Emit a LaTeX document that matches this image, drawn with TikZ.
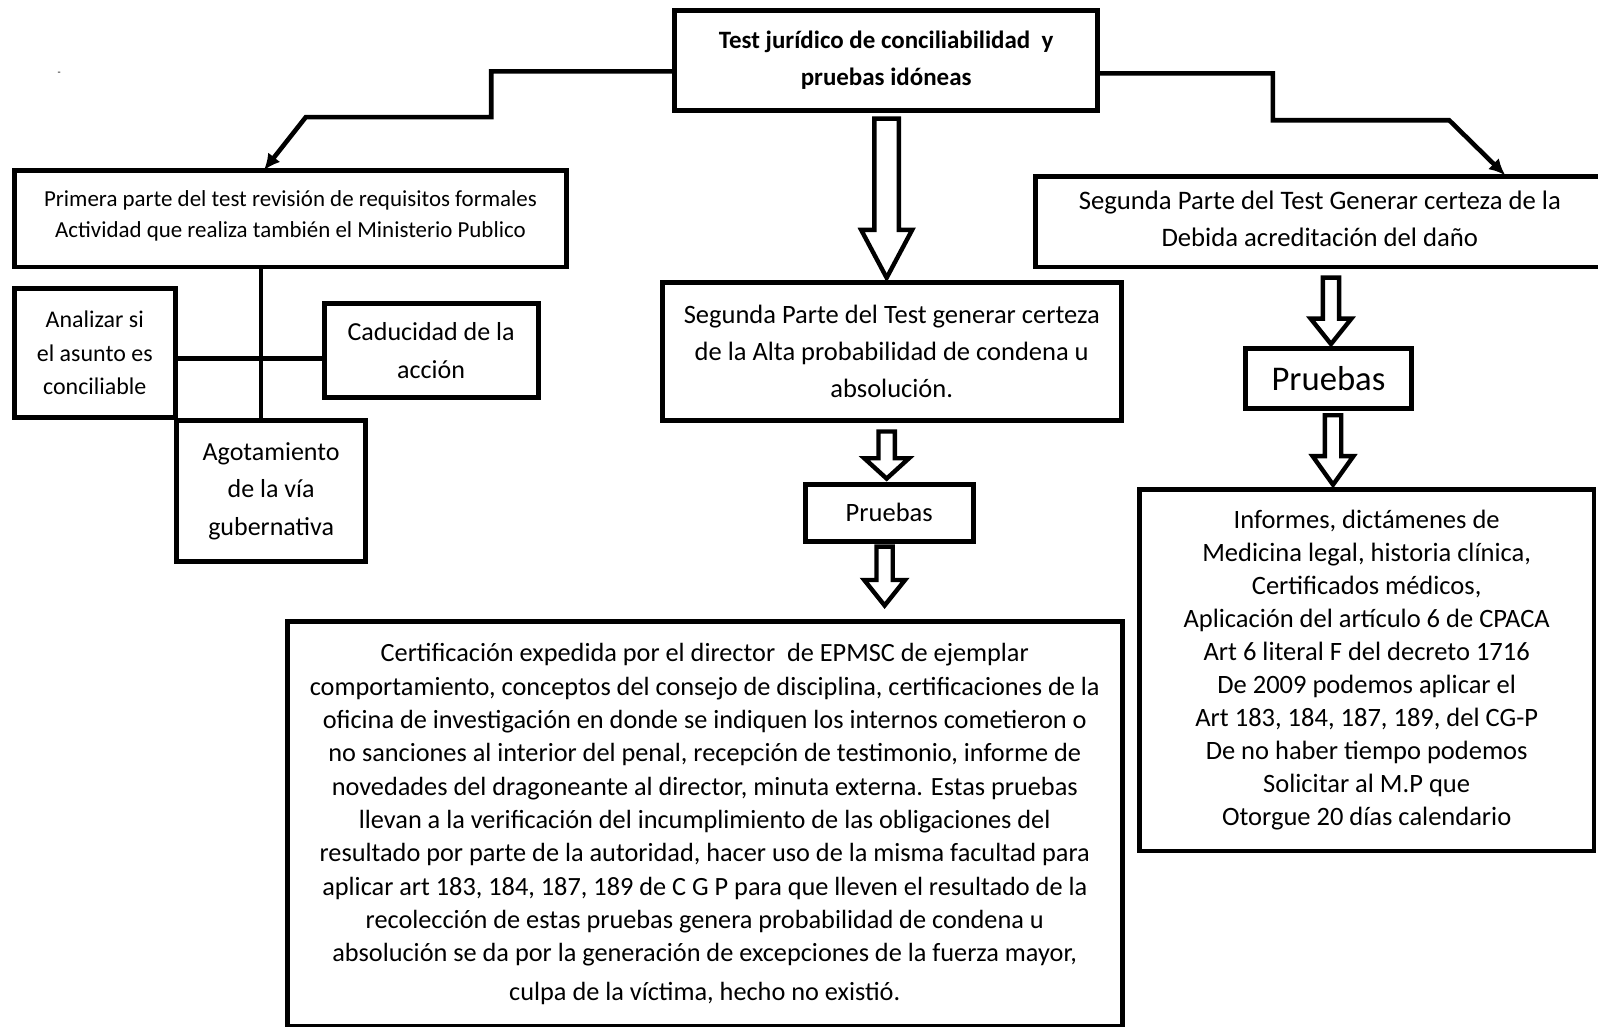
\documentclass[tikz,border=0pt]{standalone}
\usepackage{fontspec}
\setmainfont{Carlito}
\usetikzlibrary{arrows.meta,calc}
\newcommand{\hollowarr}[8]{%
\draw[harrowst] let \p1=(#1), \p2=(#2) in
 (\x1+#3-#6,\y1-#4) -- (\x1+#3+#6,\y1-#4) -- (\x1+#3+#6,\y2+#5+#8) -- (\x1+#3+#7,\y2+#5+#8)
 -- (\x1+#3,\y2+#5) -- (\x1+#3-#7,\y2+#5+#8) -- (\x1+#3-#6,\y2+#5+#8) -- cycle;}
\begin{document}
\begin{tikzpicture}[x=1pt,y=-1pt,
  box/.style={draw, line width=4.8pt, align=center, inner sep=0pt, fill=white},
  conn/.style={line width=4.5pt, line join=miter},
  tipped/.style={-{Latex[length=16pt,width=15pt]}},
  harrowst/.style={draw, line width=4.3pt, fill=white, line join=miter}]
\useasboundingbox (0,0) rectangle (1568,1007);
\begin{scope}
\clip (0,0) rectangle (1568,1007);
\node[box, minimum width=415pt, minimum height=98pt, font=\fontsize{24.5}{36}\selectfont\bfseries] (top) at (869.5,59)
  {Test jurídico de conciliabilidad\ \ y\\pruebas idóneas};
\node[font=\fontsize{10}{10}\selectfont] (dash) at (58,72) {-};
\node[box, minimum width=542pt, minimum height=95pt, font=\fontsize{22.5}{30}\selectfont, text depth=9pt] (prim) at (285,214.5)
  {Primera parte del test revisión de requisitos formales\\Actividad que realiza también el Ministerio Publico};
\node[box, minimum width=158pt, minimum height=127pt, font=\fontsize{23.5}{33}\selectfont] (anal) at (93,346.5)
  {Analizar si\\el asunto es\\conciliable};
\node[box, minimum width=210pt, minimum height=92pt, font=\fontsize{25.5}{37}\selectfont] (cad) at (423,344)
  {Caducidad de la\\acción};
\node[box, minimum width=186pt, minimum height=138pt, font=\fontsize{25.5}{37}\selectfont] (agot) at (266,482)
  {Agotamiento\\de la vía\\gubernativa};
\node[box, minimum width=450pt, minimum height=136pt, font=\fontsize{26}{36.5}\selectfont] (mid) at (875,345)
  {Segunda Parte del Test generar certeza\\de la Alta probabilidad de condena u\\absolución.};
\node[box, minimum width=165pt, minimum height=56pt, font=\fontsize{26}{28}\selectfont] (prM) at (872.5,503) {Pruebas};
\node[box, minimum width=819pt, minimum height=398pt, font=\fontsize{25.8}{32.7}\selectfont] (cert) at (691.5,808.5)
  {Certificación expedida por el director\ \ de EPMSC de ejemplar\\
   comportamiento, conceptos del consejo de disciplina, certificaciones de la\\
   oficina de investigación en donde se indiquen los internos cometieron o\\
   no sanciones al interior del penal, recepción de testimonio, informe de\\
   novedades del dragoneante al director, minuta externa. Estas pruebas\\
   llevan a la verificación del incumplimiento de las obligaciones del\\
   resultado por parte de la autoridad, hacer uso de la misma facultad para\\
   aplicar art 183, 184, 187, 189 de C G P para que lleven el resultado de la\\
   recolección de estas pruebas genera probabilidad de condena u\\
   absolución se da por la generación de excepciones de la fuerza mayor,\\[5pt]
   culpa de la víctima, hecho no existió.};
\node[box, minimum width=558pt, minimum height=89pt, font=\fontsize{26.2}{36}\selectfont, text depth=6pt] (rsg) at (1295,217.5)
  {Segunda Parte del Test Generar certeza de la\\Debida acreditación del daño};
\node[box, minimum width=163pt, minimum height=59pt, font=\fontsize{34}{36}\selectfont] (prR) at (1303.5,371.5) {Pruebas};
\node[box, minimum width=446pt, minimum height=355pt, font=\fontsize{26}{32.3}\selectfont] (inf) at (1341,657.5)
  {Informes, dictámenes de\\
   Medicina legal, historia clínica,\\
   Certificados médicos,\\
   Aplicación del artículo 6 de CPACA\\
   Art 6 literal F del decreto 1716\\
   De 2009 podemos aplicar el\\
   Art 183, 184, 187, 189, del CG-P\\
   De no haber tiempo podemos\\
   Solicitar al M.P que\\
   Otorgue 20 días calendario};
% connectors
\coordinate (lb1) at (482,70); \coordinate (lb2) at (482,115);
\coordinate (lb3) at (300,115); \coordinate (ltip) at (259,167);
\draw[conn, tipped] (top.west |- lb1) -- (lb1) -- (lb2) -- (lb3) -- (ltip);
\coordinate (rb1) at (1249,72); \coordinate (rb2) at (1249,118);
\coordinate (rb3) at (1422,118); \coordinate (rtip) at (1477,172);
\draw[conn, tipped] (top.east |- rb1) -- (rb1) -- (rb2) -- (rb3) -- (rtip);
\coordinate (trunk) at (256,0); \coordinate (hy) at (0,352);
\draw[conn] (prim.south -| trunk) -- (agot.north -| trunk);
\draw[conn] (anal.east |- hy) -- (cad.west |- hy);
% hollow arrows
\hollowarr{top.south}{mid.north}{0.5pt}{6pt}{2pt}{12pt}{25pt}{47pt}
\hollowarr{mid.south}{prM.north}{-5pt}{8pt}{3pt}{8pt}{22pt}{20pt}
\hollowarr{prM.south}{cert.north}{-4.5pt}{3pt}{13pt}{8pt}{20pt}{25pt}
\hollowarr{rsg.south}{prR.north}{11pt}{8pt}{2pt}{8pt}{20pt}{25pt}
\hollowarr{prR.south}{inf.north}{4.5pt}{4pt}{2pt}{8pt}{20pt}{28pt}
\end{scope}
\end{tikzpicture}
\end{document}
